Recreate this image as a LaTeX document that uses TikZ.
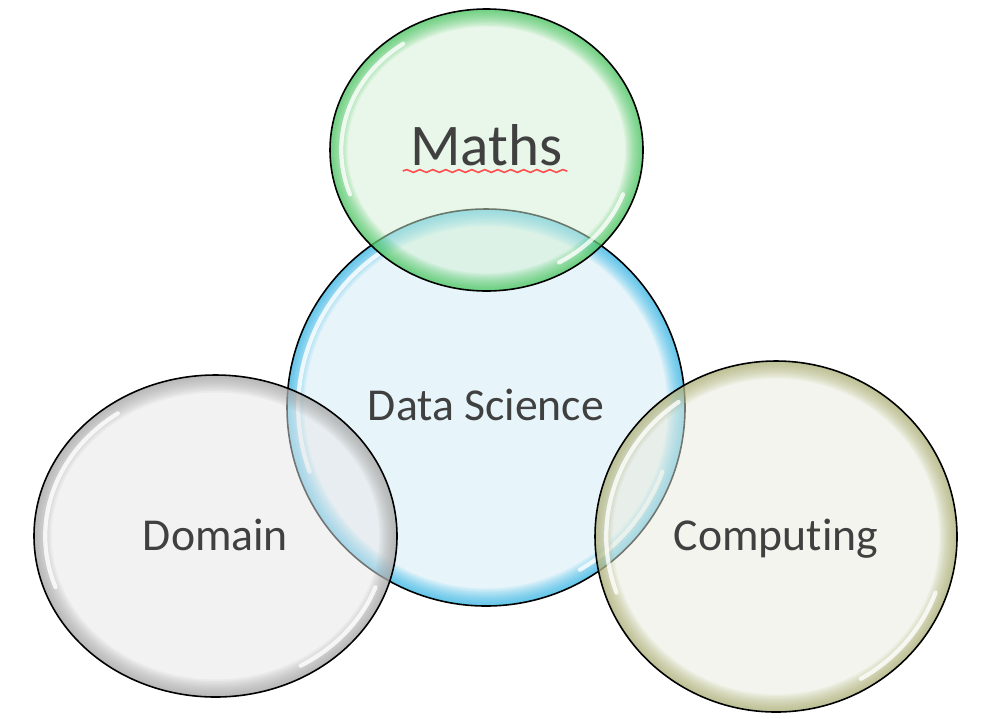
\documentclass[tikz,border=0pt]{standalone}
\usepackage{fontspec}
\setmainfont{Carlito}[Ligatures=NoCommon]
\usetikzlibrary{shapes.geometric,calc,decorations.pathmorphing}
\definecolor{inkgray}{HTML}{404040}
\definecolor{mathsfill}{RGB}{211,241,213}
\definecolor{mathsglow}{HTML}{2DBF48}
\definecolor{dsfill}{RGB}{209,237,247}
\definecolor{dsglow}{HTML}{1AAEE4}
\definecolor{domfill}{RGB}{231,231,231}
\definecolor{domglow}{HTML}{9A9A9A}
\definecolor{compfill}{RGB}{233,235,221}
\definecolor{compglow}{HTML}{A4A766}
\definecolor{squigred}{HTML}{FF4D4D}

\tikzset{
	bubble/.style={ellipse, draw=black, line width=0.45pt, inner sep=0pt, fill=#1fill, fill opacity=0.5,
		path picture={
			\foreach \w in {10,9,...,1}
				\draw[#1glow, line width=\w pt, opacity=0.09] let \p1=(path picture bounding box.north east), \p2=(path picture bounding box.center) in (\p2) ellipse [x radius=\x1-\x2, y radius=\y1-\y2];
			% glossy rim
			\draw[white, line width=1.2pt, opacity=0.8, line cap=round] let \p1=(path picture bounding box.north east), \p2=(path picture bounding box.center), \n1={\x1-\x2-3.2pt}, \n2={\y1-\y2-3.2pt} in
				($(\p2)+({\n1*cos(125)},{\n2*sin(125)})$) arc[start angle=125, end angle=200, x radius=\n1, y radius=\n2]
				($(\p2)+({\n1*cos(300)},{\n2*sin(300)})$) arc[start angle=300, end angle=340, x radius=\n1, y radius=\n2];
		}},
	word/.style={anchor=base, inner sep=0pt, text=inkgray, font=\fontsize{13}{15}\selectfont},
	squiggle/.style={draw=squigred, line width=0.45pt, decorate, decoration={snake, amplitude=0.4pt, segment length=1.3mm}}
}

\begin{document}
\begin{tikzpicture}
		\path[use as bounding box, fill=white] (0,0) rectangle (10,7.18);
		
		\node[bubble=ds, minimum width=3.98cm, minimum height=3.97cm] (ds) at (4.86,3.105) {};
		\node[bubble=maths, minimum width=3.13cm, minimum height=2.82cm] (maths) at (4.865,5.68) {};
		\node[bubble=dom, minimum width=3.63cm, minimum height=3.22cm] (domain) at (2.155,1.82) {};
		\node[bubble=comp, minimum width=3.62cm, minimum height=3.51cm] (computing) at (7.76,1.815) {};
		
		\node[word] (dsword) at ([yshift=-0.125cm]ds.center) {Data Science};
		\node[word, font=\fontsize{16.8}{20}\selectfont] (mathsword) at ([yshift=-0.15cm]maths.center) {Maths};
		\node[word] (domword) at ([yshift=-0.14cm]domain.center) {Domain};
		\node[word] (compword) at ([yshift=-0.135cm]computing.center) {Computing};
		
		\draw[squiggle] ([xshift=-0.07cm, yshift=-0.06cm]mathsword.base west) -- ([xshift=0.04cm, yshift=-0.06cm]mathsword.base east);
	\end{tikzpicture}
\end{document}
